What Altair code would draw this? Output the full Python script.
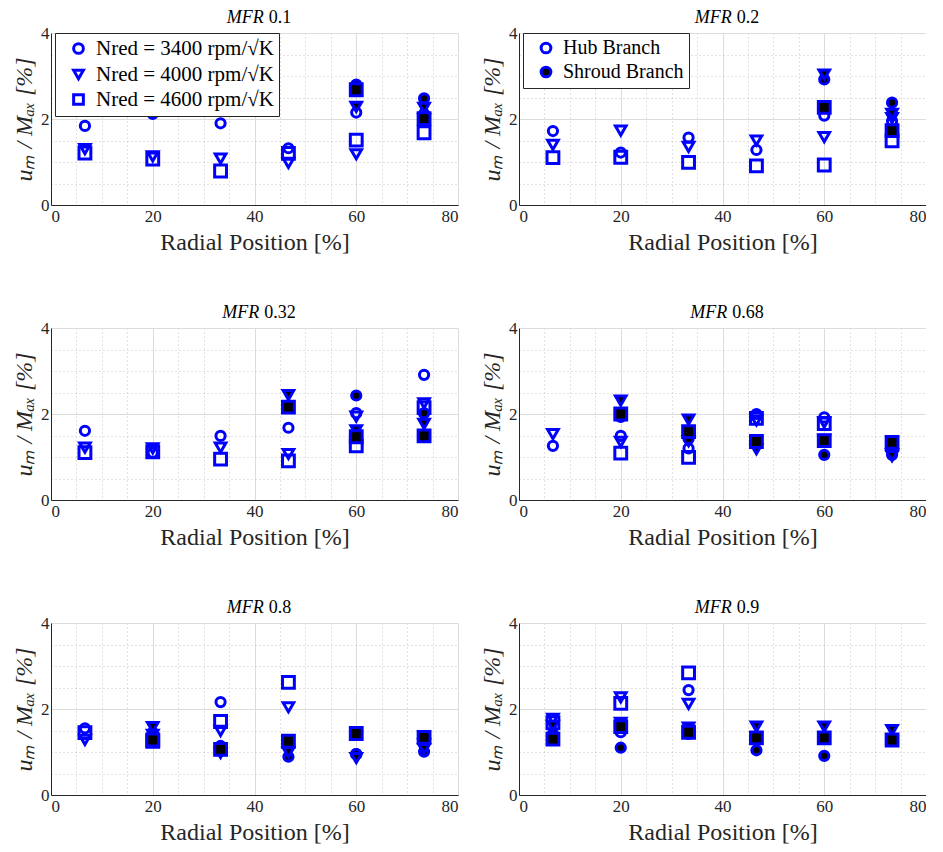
import altair as alt
import pandas as pd

# ---------------- data ----------------
POSITIONS = [6.67, 20.0, 33.33, 46.67, 60.0, 73.33]
MFR_LABELS = ["0.1", "0.2", "0.32", "0.68", "0.8", "0.9"]
SPEEDS = ["Nred = 3400 rpm/√K", "Nred = 4000 rpm/√K", "Nred = 4600 rpm/√K"]
SPEED_KEYS = ["s3400", "s4000", "s4600"]
BRANCHES = ["Hub Branch", "Shroud Branch"]
N = None

# MFR 0.1
hub_01_3400 = [1.84, 2.12, 1.90, 1.32, 2.15, 2.12]
hub_01_4000 = [1.30, 1.13, 1.08, 0.98, 1.18, 2.00]
hub_01_4600 = [1.21, 1.07, 0.79, 1.20, 1.51, 1.68]
shr_01_3400 = [N, N, N, N, 2.80, 2.48]
shr_01_4000 = [N, N, N, N, 2.28, 2.26]
shr_01_4600 = [N, N, N, N, 2.68, 2.01]
# MFR 0.2
hub_02_3400 = [1.72, 1.22, 1.57, 1.28, 2.08, 1.95]
hub_02_4000 = [1.40, 1.73, 1.35, 1.50, 1.58, 2.02]
hub_02_4600 = [1.10, 1.11, 0.99, 0.91, 0.93, 1.49]
shr_02_3400 = [N, N, N, N, 2.92, 2.38]
shr_02_4000 = [N, N, N, N, 3.03, 2.12]
shr_02_4600 = [N, N, N, N, 2.27, 1.73]
# MFR 0.32
hub_032_3400 = [1.61, 1.10, 1.49, 1.68, 2.02, 2.91]
hub_032_4000 = [1.22, 1.20, 1.22, 1.07, 1.94, 2.25]
hub_032_4600 = [1.10, 1.12, 0.95, 0.91, 1.26, 2.15]
shr_032_3400 = [N, N, N, N, 2.43, 2.02]
shr_032_4000 = [N, N, N, 2.44, 1.62, 1.77]
shr_032_4600 = [N, N, N, 2.16, 1.47, 1.49]
# MFR 0.68
hub_068_3400 = [1.26, 1.49, 1.20, 2.00, 1.92, N]
hub_068_4000 = [1.53, 1.35, 1.37, 1.85, 1.80, 1.07]
hub_068_4600 = [N, 1.09, 0.99, 1.90, 1.78, N]
shr_068_3400 = [N, 1.93, 1.42, 1.35, 1.05, 1.05]
shr_068_4000 = [N, 2.31, 1.87, 1.18, 1.40, 1.02]
shr_068_4600 = [N, 2.00, 1.59, 1.36, 1.38, 1.34]
# MFR 0.8
hub_08_3400 = [1.55, 1.45, 2.16, N, 0.95, N]
hub_08_4000 = [1.28, 1.40, 1.49, 2.04, N, 1.18]
hub_08_4600 = [1.45, 1.25, 1.71, 2.62, N, N]
shr_08_3400 = [N, 1.40, 1.14, 0.89, 0.95, 1.01]
shr_08_4000 = [N, 1.58, 0.98, 0.99, 0.86, 1.07]
shr_08_4600 = [N, 1.28, 1.06, 1.25, 1.43, 1.34]
# MFR 0.9
hub_09_3400 = [N, 1.46, 2.44, N, N, N]
hub_09_4000 = [1.77, 2.27, 2.12, N, N, N]
hub_09_4600 = [1.68, 2.13, 2.84, N, N, N]
shr_09_3400 = [1.42, 1.10, 1.42, 1.04, 0.91, N]
shr_09_4000 = [1.61, 1.68, 1.57, 1.59, 1.59, 1.51]
shr_09_4600 = [1.30, 1.59, 1.46, 1.33, 1.33, 1.28]

SERIES = {
    "0.1": ([hub_01_3400, hub_01_4000, hub_01_4600], [shr_01_3400, shr_01_4000, shr_01_4600]),
    "0.2": ([hub_02_3400, hub_02_4000, hub_02_4600], [shr_02_3400, shr_02_4000, shr_02_4600]),
    "0.32": ([hub_032_3400, hub_032_4000, hub_032_4600], [shr_032_3400, shr_032_4000, shr_032_4600]),
    "0.68": ([hub_068_3400, hub_068_4000, hub_068_4600], [shr_068_3400, shr_068_4000, shr_068_4600]),
    "0.8": ([hub_08_3400, hub_08_4000, hub_08_4600], [shr_08_3400, shr_08_4000, shr_08_4600]),
    "0.9": ([hub_09_3400, hub_09_4000, hub_09_4600], [shr_09_3400, shr_09_4000, shr_09_4600]),
}

rows = []
for mfr in MFR_LABELS:
    for b, group in zip(BRANCHES, SERIES[mfr]):
        for sp, key, vals in zip(SPEEDS, SPEED_KEYS, group):
            for p, v in zip(POSITIONS, vals):
                if v is not None:
                    rows.append({"mfr": mfr, "branch": b, "speed": sp, "speed_key": key,
                                 "pos": p, "val": v})
df = pd.DataFrame(rows)

# ---------------- styling ----------------
BLUE = "#0000ff"
SERIF = "Liberation Serif"
AX = "#262626"
W, H = 407, 172

shape_scale = alt.Scale(domain=SPEEDS, range=["circle", "triangle-down", "square"])
size_scale = alt.Scale(domain=SPEED_KEYS, range=[85, 140, 100])
fill_scale = alt.Scale(domain=BRANCHES, range=["transparent", "black"])

grid_color_x = {"condition": {"test": "datum.value % 20 === 0", "value": "#dcdcdc"}, "value": "#c4c4c4"}
grid_dash_x = {"condition": {"test": "datum.value % 20 === 0", "value": []}, "value": [1, 3]}
grid_color_y = {"condition": {"test": "datum.value % 2 === 0", "value": "#dcdcdc"}, "value": "#c4c4c4"}
grid_dash_y = {"condition": {"test": "datum.value % 2 === 0", "value": []}, "value": [1, 3]}

x_axis = alt.Axis(
    values=[v * 5 for v in range(17)],
    labelExpr="datum.value % 20 === 0 ? toString(datum.value) : ''",
    ticks=False, grid=True, gridColor=grid_color_x, gridDash=grid_dash_x, gridWidth=1,
    domainColor=AX, domainWidth=1, labelFont=SERIF, labelFontSize=17, labelColor=AX,
    labelPadding=3, titleFont=SERIF, titleFontSize=24, titleFontWeight="normal",
    titleColor=AX, titlePadding=6, labelOverlap=False,
)
y_axis = alt.Axis(
    values=[v * 0.5 for v in range(9)],
    labelExpr="datum.value % 2 === 0 ? toString(datum.value) : ''",
    ticks=False, grid=True, gridColor=grid_color_y, gridDash=grid_dash_y, gridWidth=1,
    domainColor=AX, domainWidth=1, labelFont=SERIF, labelFontSize=17, labelColor=AX,
    labelPadding=2, titleFont=SERIF, titleFontSize=24, titleFontWeight="normal",
    titleFontStyle="italic", titleColor=AX, titlePadding=4, labelOverlap=False,
)

LEG = dict(
    title=None, orient="none", legendX=4, legendY=0, strokeColor="#262626",
    fillColor="white", labelFont=SERIF, labelColor="black",
    symbolStrokeColor=BLUE, symbolStrokeWidth=3, symbolSize=95, symbolOffset=8,
    labelOffset=7, labelLimit=400,
)


def panel(i):
    mfr = MFR_LABELS[i]
    d = df[df["mfr"] == mfr]
    shape_legend = None
    fill_legend = None
    if i == 0:
        shape_legend = alt.Legend(symbolFillColor="transparent", labelFontSize=21,
                                  rowPadding=3, padding=5, **LEG)
    if i == 1:
        fill_legend = alt.Legend(symbolType="circle", labelFontSize=20,
                                 rowPadding=2, padding=5, **LEG)
    pts = alt.Chart(d).mark_point(
        filled=True, stroke=BLUE, strokeWidth=3, opacity=1, strokeOpacity=1, fillOpacity=1
    ).encode(
        x=alt.X("pos:Q", scale=alt.Scale(domain=[0, 80], nice=False, zero=False),
                axis=x_axis, title="Radial Position [%]"),
        y=alt.Y("val:Q", scale=alt.Scale(domain=[0, 4], nice=False),
                axis=y_axis, title="uₘ / Mₐₓ [%]"),
        shape=alt.Shape("speed:N", scale=shape_scale, legend=shape_legend),
        fill=alt.Fill("branch:N", scale=fill_scale, legend=fill_legend),
        size=alt.Size("speed_key:N", scale=size_scale, legend=None),
    )
    # panel title: italic "MFR" followed by upright value
    num_w = sum(4.5 if c == "." else 9.0 for c in mfr)
    mfr_w = 46.0
    total = mfr_w + 5 + num_w
    start = W / 2 - total / 2
    t1 = alt.Chart(pd.DataFrame({"t": ["MFR"]})).mark_text(
        font=SERIF, fontSize=18, fontStyle="italic", align="right", baseline="alphabetic", color="black"
    ).encode(text="t:N", x=alt.value(start + mfr_w), y=alt.value(-10))
    t2 = alt.Chart(pd.DataFrame({"t": [mfr]})).mark_text(
        font=SERIF, fontSize=18, align="left", baseline="alphabetic", color="black"
    ).encode(text="t:N", x=alt.value(start + mfr_w + 5), y=alt.value(-10))
    return alt.layer(pts, t1, t2).properties(width=W, height=H)


rows_c = []
for r in range(3):
    rows_c.append(
        alt.hconcat(panel(2 * r), panel(2 * r + 1), spacing=22).resolve_scale(
            shape="independent", fill="independent", size="independent"
        ).resolve_legend(shape="independent", fill="independent", size="independent")
    )

chart = alt.vconcat(*rows_c, spacing=50).resolve_scale(
    shape="independent", fill="independent", size="independent"
).resolve_legend(shape="independent", fill="independent", size="independent").configure_view(
    stroke=None
).properties(padding={"left": 4, "top": 1, "right": 0, "bottom": 0}, background="white")

chart.save("out.html", embed_options={"renderer": "svg", "actions": False})
